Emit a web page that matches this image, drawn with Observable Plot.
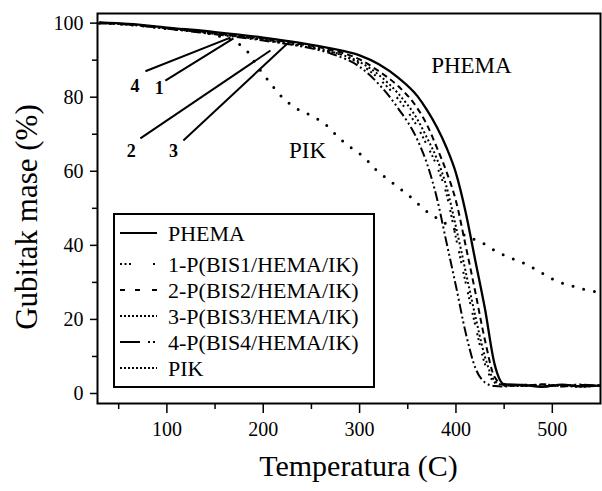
<!DOCTYPE html>
<html>
<head>
<meta charset="utf-8">
<script src="https://cdn.jsdelivr.net/npm/d3@7"></script>
<script src="https://cdn.jsdelivr.net/npm/@observablehq/plot@0.6"></script>
<style>
  html, body { margin: 0; padding: 0; background: #fff; }
  #wrap { position: relative; width: 602px; height: 491px; overflow: hidden; }
  #wrap svg { display: block; }
  #legend { position: absolute; background: #fff; border: 2px solid #000; box-sizing: border-box; }
</style>
</head>
<body>
<div id="wrap"></div>
<script>
// ---- data ----
const temps = [30, 60, 100, 150, 200, 240, 270, 300, 320, 340, 360, 370, 380, 390, 400, 410, 420, 430, 440, 450, 470, 490, 510, 530, 550];
const phema = [100.2, 99.8, 98.8, 97.6, 96.1, 94.6, 93.2, 91.3, 88.9, 85.3, 80.3, 76.5, 72.0, 66.5, 59.5, 49.0, 36.0, 23.0, 8.0, 2.5, 2.3, 1.8, 2.4, 1.9, 2.2];
const bis1  = [100.1, 99.6, 98.6, 97.2, 95.6, 94.0, 92.4, 89.0, 85.0, 79.5, 72.0, 67.0, 61.5, 54.0, 42.0, 30.0, 18.5, 8.0, 3.0, 2.1, 2.4, 1.9, 2.3, 2.0, 2.1];
const bis2  = [100.0, 99.7, 98.7, 97.3, 95.8, 94.3, 92.8, 90.2, 87.0, 83.0, 77.0, 72.5, 66.5, 60.0, 52.0, 40.0, 27.5, 14.5, 4.5, 2.3, 2.1, 2.5, 1.9, 2.3, 2.0];
const bis3  = [100.1, 99.7, 98.6, 97.1, 95.5, 93.8, 92.3, 89.5, 86.0, 81.0, 74.0, 69.0, 63.5, 56.0, 45.0, 33.0, 21.0, 10.0, 3.5, 2.2, 2.0, 2.4, 2.1, 1.8, 2.3];
const bis4  = [100.0, 99.6, 98.5, 97.0, 95.3, 93.7, 91.8, 88.2, 83.5, 77.0, 68.5, 62.0, 53.0, 41.0, 29.0, 16.5, 7.0, 3.0, 2.0, 1.9, 2.3, 1.9, 2.2, 2.4, 2.0];
const pikTemps = [30, 60, 100, 150, 181, 195, 211, 220, 233, 253, 267, 279, 292, 305, 317, 330, 343, 355, 367, 388, 413, 426, 443, 459, 472, 486, 505, 522, 542, 550];
const pik      = [100, 99.6, 98.5, 96.8, 93.1, 88.0, 82.6, 79.9, 77.2, 74.6, 72.1, 68.9, 66.2, 63.7, 60.4, 57.7, 55.1, 52.6, 49.7, 46.1, 42.2, 40.9, 38.2, 36.4, 35.0, 33.0, 30.3, 28.9, 27.6, 27.4];

const seriesNames = ["PHEMA", "1-P(BIS1/HEMA/IK)", "2-P(BIS2/HEMA/IK)", "3-P(BIS3/HEMA/IK)", "4-P(BIS4/HEMA/IK)", "PIK"];

const yMajor = [0, 20, 40, 60, 80, 100];
const yMinor = [10, 30, 50, 70, 90];
const xMajor = [100, 200, 300, 400, 500];
const xMinor = [50, 150, 250, 350, 450];

const xLabel = "Temperatura (C)";
const yLabel = "Gubitak mase (%)";

// in-plot annotations (data units)
const noteText = ["PHEMA", "PIK"];
const noteX = [416, 246];
const noteY = [88.6, 65.6];
const numText = ["4", "1", "2", "3"];
const numX = [67, 92, 63, 107];
const numY = [82.9, 82.4, 65.4, 65.4];
const leadX1 = [77.7, 98.4, 72.5, 117.1];
const leadY1 = [87.0, 84.5, 68.9, 68.3];
const leadX2 = [165.9, 169.1, 207.5, 225.1];
const leadY2 = [96.1, 95.9, 92.6, 94.5];

// ---- styles ----
const plotDash   = [null, "2,3,2,3,2,9", "6,4", "2,2.5", "10,3,2,3,2,3", "0,11"];
const legendDash = [null, "2,2.5,2,2.5,2,22,2", "5,10,5,12,5", "2,2", "20,8,2,3,2", "2,2"];
const widths     = [2.3, 2, 2, 2, 2, 3];

const rows = (xs, ys) => xs.map((t, i) => ({t, v: ys[i]}));
const seriesRows = [rows(temps, phema), rows(temps, bis1), rows(temps, bis2), rows(temps, bis3), rows(temps, bis4), rows(pikTemps, pik)];

const serif = "'Liberation Serif', 'DejaVu Serif', serif";

const lineMarks = seriesRows.map((d, k) => Plot.line(d, {
  x: "t", y: "v", stroke: "black", strokeWidth: widths[k],
  strokeDasharray: plotDash[k] || undefined,
  strokeLinecap: k === 5 ? "round" : "butt",
  curve: "monotone-x"
}));

const notes = noteText.map((s, i) => ({s, x: noteX[i], y: noteY[i]}));
const nums = numText.map((s, i) => ({s, x: numX[i], y: numY[i]}));
const leads = leadX1.map((x1, i) => ({x1, y1: leadY1[i], x2: leadX2[i], y2: leadY2[i]}));

const chart = Plot.plot({
  width: 602, height: 491,
  marginLeft: 97, marginRight: 2, marginTop: 13, marginBottom: 88,
  x: {domain: [28, 550]},
  y: {domain: [-2.7, 102.6]},
  style: {fontFamily: serif, background: "white", color: "black", overflow: "visible"},
  marks: [
    Plot.axisY(yMinor, {tickSize: 5, tickFormat: () => "", label: null, strokeWidth: 1.5}),
    Plot.axisY(yMajor, {tickSize: 7, tickPadding: 7, fontSize: 20, label: null, strokeWidth: 1.5}),
    Plot.axisX(xMinor, {tickSize: 6, tickFormat: () => "", label: null, strokeWidth: 1.5}),
    Plot.axisX(xMajor, {tickSize: 10, tickPadding: 8, fontSize: 20, label: null, strokeWidth: 1.5}),
    Plot.frame({strokeWidth: 2}),
    ...lineMarks,
    Plot.link(leads, {x1: "x1", y1: "y1", x2: "x2", y2: "y2", stroke: "black", strokeWidth: 2}),
    Plot.text(nums, {x: "x", y: "y", text: "s", fontSize: 18, fontWeight: "bold", fontFamily: serif}),
    Plot.text(notes, {x: "x", y: "y", text: "s", fontSize: 23, fontFamily: serif}),
    Plot.text([xLabel], {frameAnchor: "bottom", dx: 9.5, dy: 72, fontSize: 30, fontFamily: serif})
  ]
});

const wrap = document.getElementById("wrap");
wrap.appendChild(chart);

// rotated y-axis title
d3.select(chart).append("text")
  .attr("transform", "translate(27,217) rotate(-90)")
  .attr("text-anchor", "middle").attr("dy", "0.33em")
  .attr("font-family", serif).attr("font-size", 31).attr("fill", "black")
  .text(yLabel);

// ---- legend box inside the plot area ----
const L = {left: 113, top: 213, width: 262, height: 175};
const legend = d3.select(wrap).append("div").attr("id", "legend")
  .style("left", L.left + "px").style("top", L.top + "px")
  .style("width", L.width + "px").style("height", L.height + "px");
const lsvg = legend.append("svg").attr("width", L.width - 4).attr("height", L.height - 4);
const rowY = [18, 49, 75, 101, 127, 153];
seriesNames.forEach((name, k) => {
  lsvg.append("line").attr("x1", 5).attr("x2", 42).attr("y1", rowY[k]).attr("y2", rowY[k])
    .attr("stroke", "black").attr("stroke-width", 2)
    .attr("stroke-dasharray", legendDash[k]);
  lsvg.append("text").attr("x", 53).attr("y", rowY[k]).attr("dy", "0.35em")
    .attr("font-family", serif).attr("font-size", 22).text(name);
});
</script>
</body>
</html>
